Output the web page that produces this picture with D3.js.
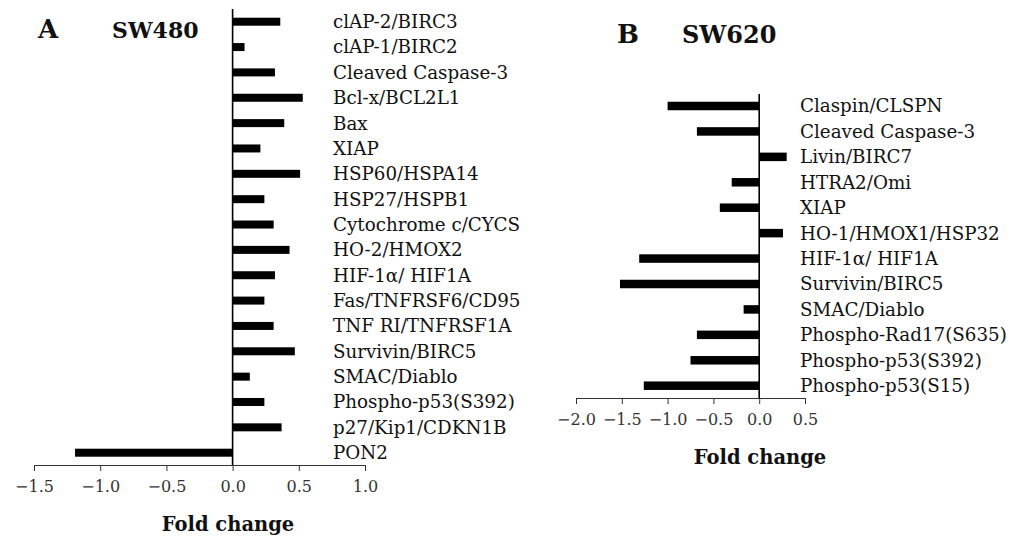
<!DOCTYPE html>
<meta charset="utf-8">
<style>
  body { margin: 0; background: #fff; }
  svg text { font-family: "DejaVu Serif", "Liberation Serif", serif; fill: #111; }
</style>
<body>
<div class="chart"></div>

<script src="https://d3js.org/d3.v7.min.js"></script>
<script>

// panel A data (SW480)
var catsA = ["clAP-2/BIRC3", "clAP-1/BIRC2", "Cleaved Caspase-3", "Bcl-x/BCL2L1", "Bax", "XIAP",
  "HSP60/HSPA14", "HSP27/HSPB1", "Cytochrome c/CYCS", "HO-2/HMOX2", "HIF-1\u03b1/ HIF1A",
  "Fas/TNFRSF6/CD95", "TNF RI/TNFRSF1A", "Survivin/BIRC5", "SMAC/Diablo", "Phospho-p53(S392)",
  "p27/Kip1/CDKN1B", "PON2"];
var valsA = [0.36, 0.09, 0.32, 0.53, 0.39, 0.21, 0.51, 0.24, 0.31, 0.43, 0.32,
  0.24, 0.31, 0.47, 0.13, 0.24, 0.37, -1.19];
var ticksA = [-1.5, -1.0, -0.5, 0.0, 0.5, 1.0];

// panel B data (SW620)
var catsB = ["Claspin/CLSPN", "Cleaved Caspase-3", "Livin/BIRC7", "HTRA2/Omi", "XIAP",
  "HO-1/HMOX1/HSP32", "HIF-1\u03b1/ HIF1A", "Survivin/BIRC5", "SMAC/Diablo",
  "Phospho-Rad17(S635)", "Phospho-p53(S392)", "Phospho-p53(S15)"];
var valsB = [-1.00, -0.68, 0.30, -0.30, -0.43, 0.26, -1.31, -1.52, -0.17, -0.68, -0.75, -1.26];
var ticksB = [-2.0, -1.5, -1.0, -0.5, 0.0, 0.5];

var svg = d3.select(".chart").append("svg")
    .attr("width", 1019)
    .attr("height", 542);

var fmt = function(d) { return d3.format(".1f")(d).replace("-", "\u2212"); };

function panel(cfg) {
  var x = d3.scaleLinear().domain(cfg.domain).range(cfg.xr);
  var y = d3.scalePoint().domain(cfg.cats).range(cfg.yr);

  // bars
  svg.selectAll(".bar" + cfg.id)
      .data(cfg.vals)
    .enter().append("rect")
      .attr("x", function(d) { return x(Math.min(0, d)); })
      .attr("y", function(d, i) { return y(cfg.cats[i]) - cfg.bh / 2; })
      .attr("width", function(d) { return Math.abs(x(d) - x(0)); })
      .attr("height", cfg.bh)
      .style("fill", "#000");

  // zero line
  svg.append("line")
      .attr("x1", x(0)).attr("x2", x(0))
      .attr("y1", cfg.top).attr("y2", cfg.axisY)
      .style("stroke", "#000")
      .style("stroke-width", "1.6px");

  // labels
  svg.selectAll(".lab" + cfg.id)
      .data(cfg.cats)
    .enter().append("text")
      .attr("x", cfg.labX)
      .attr("y", function(d) { return y(d); })
      .attr("dy", "0.35em")
      .attr("font-size", "18.3px")
      .text(function(d) { return d; });

  // x axis
  var ax = svg.append("g")
      .attr("transform", "translate(0," + cfg.axisY + ")")
      .call(d3.axisBottom(x).tickValues(cfg.ticks).tickFormat(fmt).tickSize(6).tickPadding(10));
  ax.select(".domain").style("stroke", "#333");
  ax.selectAll(".tick line").style("stroke", "#333");
  ax.selectAll(".tick text")
      .attr("font-size", "16px")
      .attr("font-family", "DejaVu Serif")
      .style("fill", "#333");

  // axis title
  svg.append("text")
      .attr("x", cfg.titleX)
      .attr("y", cfg.axisY + 66)
      .style("text-anchor", "middle")
      .attr("font-size", "19.5px")
      .attr("font-weight", "bold")
      .text("Fold change");

  // panel letter and cell line
  svg.append("text")
      .attr("x", cfg.letterX).attr("y", cfg.headY)
      .attr("font-size", "26px").attr("font-weight", "bold")
      .text(cfg.letter);
  svg.append("text")
      .attr("x", cfg.nameX).attr("y", cfg.headY)
      .attr("font-size", cfg.nameSize).attr("font-weight", "bold")
      .text(cfg.name);
}

panel({id: "A", cats: catsA, vals: valsA, ticks: ticksA, domain: [-1.5, 1.0],
  xr: [34, 365], yr: [21.7, 452.7], bh: 8, top: 9, axisY: 465, labX: 333,
  titleX: 228, letter: "A", letterX: 38, name: "SW480", nameX: 112, nameSize: "22px", headY: 38});

panel({id: "B", cats: catsB, vals: valsB, ticks: ticksB, domain: [-2.0, 0.5],
  xr: [576, 805], yr: [106, 385.7], bh: 8.5, top: 94, axisY: 398, labX: 800,
  titleX: 760, letter: "B", letterX: 617, name: "SW620", nameX: 682, nameSize: "24px", headY: 43});

</script>
</body>
